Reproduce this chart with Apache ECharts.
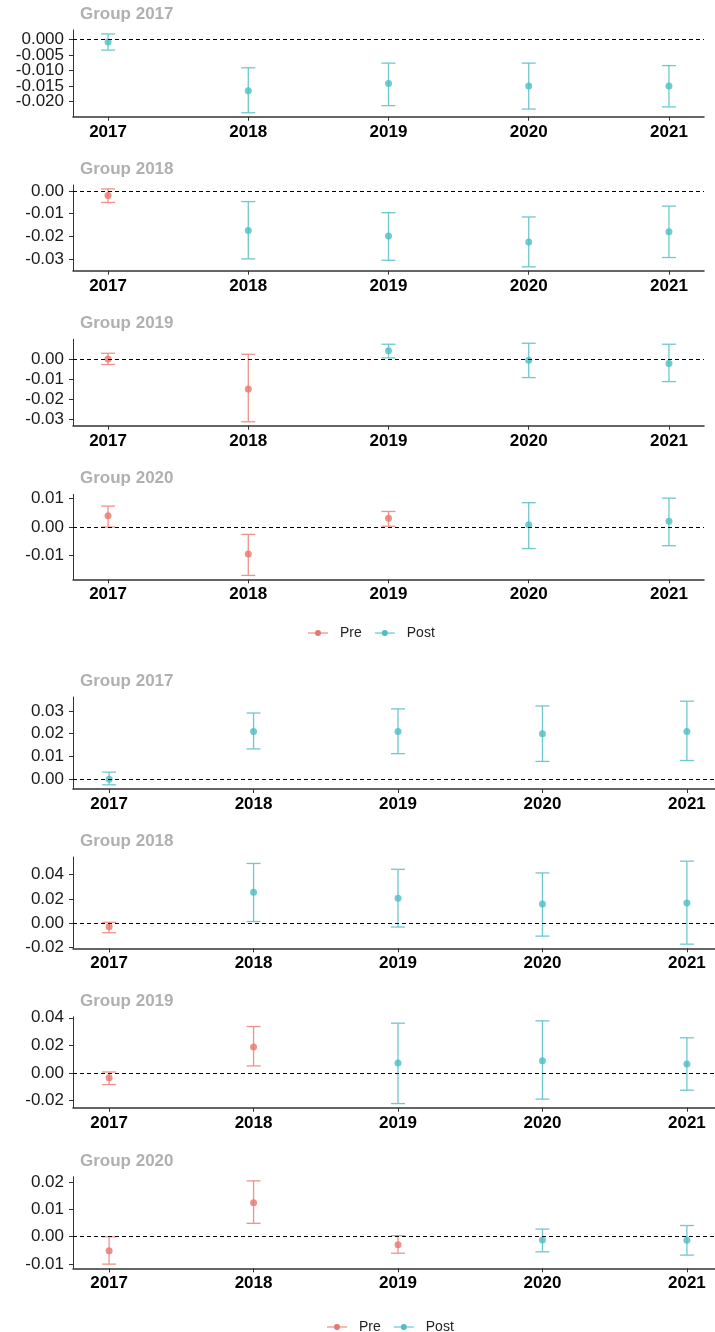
<!DOCTYPE html>
<html>
<head>
<meta charset="utf-8">
<script src="https://cdn.jsdelivr.net/npm/echarts@6/dist/echarts.min.js"></script>
<style>
html,body{margin:0;padding:0;background:#fff;}
#chart{width:715px;height:1332px;}
</style>
</head>
<body>
<div id="chart"></div>
<script>
// ---------- data ----------
const years = [2017, 2018, 2019, 2020, 2021];
const groupYears = [2017, 2018, 2019, 2020];
const groupTitles = ['Group 2017', 'Group 2018', 'Group 2019', 'Group 2020'];

// Upper block (4 panels)
const topEst = [
  [-0.0008, -0.0165, -0.0142, -0.0150, -0.0150],
  [-0.0020, -0.0175, -0.0199, -0.0226, -0.0180],
  [ 0.0000, -0.0150,  0.0040, -0.0007, -0.0023],
  [ 0.0040, -0.0095,  0.0031,  0.0008,  0.0020]
];
const topLow = [
  [-0.0034, -0.0236, -0.0213, -0.0224, -0.0217],
  [-0.0051, -0.0300, -0.0306, -0.0335, -0.0294],
  [-0.0028, -0.0313,  0.0005, -0.0093, -0.0113],
  [ 0.0000, -0.0171,  0.0003, -0.0076, -0.0066]
];
const topHigh = [
  [ 0.0018, -0.0091, -0.0076, -0.0076, -0.0084],
  [ 0.0009, -0.0047, -0.0096, -0.0115, -0.0067],
  [ 0.0028,  0.0023,  0.0073,  0.0078,  0.0073],
  [ 0.0074, -0.0026,  0.0055,  0.0086,  0.0102]
];

// Lower block (4 panels)
const botEst = [
  [ 0.0000, 0.0210, 0.0210, 0.0200, 0.0210],
  [-0.0028, 0.0256, 0.0206, 0.0158, 0.0167],
  [-0.0034, 0.0188, 0.0072, 0.0089, 0.0065],
  [-0.0051, 0.0124, -0.0029, -0.0012, -0.0013]
];
const botLow = [
  [-0.0025, 0.0133, 0.0112, 0.0078, 0.0082],
  [-0.0078, 0.0014, -0.0031, -0.0106, -0.0172],
  [-0.0084, 0.0051, -0.0222, -0.0190, -0.0125],
  [-0.0100, 0.0049, -0.0060, -0.0055, -0.0067]
];
const botHigh = [
  [0.0031, 0.0291, 0.0309, 0.0322, 0.0343],
  [0.0008, 0.0492, 0.0444, 0.0414, 0.0511],
  [0.0007, 0.0337, 0.0361, 0.0378, 0.0255],
  [0.0000, 0.0204, 0.0004, 0.0028, 0.0041]
];

// y tick labels per panel
const topTicks = [
  [0, -0.005, -0.010, -0.015, -0.020],
  [0, -0.01, -0.02, -0.03],
  [0, -0.01, -0.02, -0.03],
  [0.01, 0, -0.01]
];
const topDecimals = [3, 2, 2, 2];
const botTicks = [
  [0.03, 0.02, 0.01, 0],
  [0.04, 0.02, 0, -0.02],
  [0.04, 0.02, 0, -0.02],
  [0.02, 0.01, 0, -0.01]
];
const botDecimals = [2, 2, 2, 2];
const phaseNames = ['Pre', 'Post'];

// ---------- styling / layout ----------
const colPoint = { Pre: '#E9766E', Post: '#4DBEC3' };
const colBar = { Pre: '#F0928B', Post: '#6FC8CC' };
const panelTop = [30, 185, 339.3, 494.3, 697, 857, 1016.7, 1176.7];
const panelH = [86.7, 85.7, 86.4, 85, 92, 91.3, 91, 91.6];
const blockWidth = [631, 650];
const FONT = '"Liberation Sans", Arial, sans-serif';
const X_MIN = 2016.75, X_MAX = 2021.25;

const panels = [];
for (let g = 0; g < 4; g++) panels.push({ est: topEst[g], low: topLow[g], high: topHigh[g], ticks: topTicks[g], dec: topDecimals[g], gy: groupYears[g], title: groupTitles[g], block: 0 });
for (let g = 0; g < 4; g++) panels.push({ est: botEst[g], low: botLow[g], high: botHigh[g], ticks: botTicks[g], dec: botDecimals[g], gy: groupYears[g], title: groupTitles[g], block: 1 });

const grids = [], xAxes = [], yAxes = [], series = [], titles = [];

panels.forEach((p, i) => {
  grids.push({ left: 73, width: blockWidth[p.block], top: panelTop[i], height: panelH[i], containLabel: false, outerBoundsMode: 'none' });
  const lo = Math.min(0, ...p.low), hi = Math.max(0, ...p.high);
  const r = hi - lo;
  xAxes.push({
    gridIndex: i, type: 'value', min: X_MIN, max: X_MAX,
    axisLine: { show: true, onZero: false, lineStyle: { color: '#333', width: 1.5 } },
    axisTick: { show: true, length: 4, customValues: years, lineStyle: { color: '#333' } },
    axisLabel: { customValues: years, interval: 0, formatter: v => String(v), color: '#000', fontSize: 17, fontWeight: 'bold', fontFamily: FONT, margin: 7, showMinLabel: true, showMaxLabel: true },
    splitLine: { show: false }
  });
  yAxes.push({
    gridIndex: i, type: 'value', min: lo - 0.05 * r, max: hi + 0.05 * r,
    axisLine: { show: true, onZero: false, lineStyle: { color: '#333', width: 1 } },
    axisTick: { show: true, length: 4, customValues: p.ticks, lineStyle: { color: '#333' } },
    axisLabel: { show: false },
    splitLine: { show: false }
  });
  // y tick labels (drawn as text so densely packed labels are all kept)
  series.push({
    type: 'custom', xAxisIndex: i, yAxisIndex: i, silent: true, clip: false,
    data: p.ticks.map(v => [X_MIN, v]),
    encode: { x: 0, y: 1 },
    renderItem: (params, api) => {
      const v = api.value(1);
      const pt = api.coord([X_MIN, v]);
      return { type: 'text', x: pt[0] - 9, y: pt[1],
        style: { text: v.toFixed(p.dec), fill: '#1a1a1a', font: '17px ' + FONT, textAlign: 'right', textVerticalAlign: 'middle' } };
    }
  });
  titles.push({
    text: p.title, left: 80, top: panelTop[i] - 24.5, padding: 0,
    textStyle: { color: '#B0B0B0', fontSize: 17, fontWeight: 'bold', fontFamily: FONT, lineHeight: 18 }
  });
  // zero reference line
  series.push({
    type: 'line', xAxisIndex: i, yAxisIndex: i, data: [], silent: true,
    markLine: { silent: true, symbol: 'none', label: { show: false },
      lineStyle: { color: '#000', type: [4, 3], width: 1.2 },
      data: [{ yAxis: 0 }] }
  });
  phaseNames.forEach(ph => {
    const bars = [], pts = [];
    years.forEach((y, k) => {
      const isPre = y < p.gy;
      if ((ph === 'Pre') === isPre) {
        bars.push([y, p.low[k], p.high[k]]);
        pts.push([y, p.est[k]]);
      }
    });
    series.push({
      type: 'custom', name: ph, xAxisIndex: i, yAxisIndex: i, data: bars,
      encode: { x: 0, y: [1, 2] },
      itemStyle: { color: colPoint[ph] },
      renderItem: (params, api) => {
        const x = api.value(0);
        const a = api.coord([x, api.value(1)]);
        const b = api.coord([x, api.value(2)]);
        const w = 7;
        const st = { stroke: colBar[ph], lineWidth: 1.3 };
        return { type: 'group', children: [
          { type: 'line', shape: { x1: a[0], y1: a[1], x2: b[0], y2: b[1] }, style: st },
          { type: 'line', shape: { x1: a[0] - w, y1: a[1], x2: a[0] + w, y2: a[1] }, style: st },
          { type: 'line', shape: { x1: b[0] - w, y1: b[1], x2: b[0] + w, y2: b[1] }, style: st }
        ]};
      }
    });
    series.push({
      type: 'scatter', name: ph, xAxisIndex: i, yAxisIndex: i, data: pts,
      symbol: 'circle', symbolSize: 7, itemStyle: { color: colPoint[ph] }, z: 3
    });
  });
});

const legendIcon = 'path://M0,4.4 L20,4.4 L20,5.6 L0,5.6 Z M13,5 A3,3 0 1 1 7,5 A3,3 0 1 1 13,5 Z';
function makeLegend(left, top) {
  return {
    data: phaseNames, left: left, top: top, orient: 'horizontal',
    icon: legendIcon, itemWidth: 20, itemHeight: 6, itemGap: 13,
    textStyle: { color: '#222', fontSize: 14, fontFamily: FONT, padding: [0, 0, 0, 7] }
  };
}

const chart = echarts.init(document.getElementById('chart'), null, { renderer: 'canvas' });
chart.setOption({
  animation: false,
  backgroundColor: '#fff',
  title: titles,
  grid: grids,
  xAxis: xAxes,
  yAxis: yAxes,
  legend: [makeLegend(303, 621), makeLegend(322, 1315)],
  series: series
});
</script>
</body>
</html>
